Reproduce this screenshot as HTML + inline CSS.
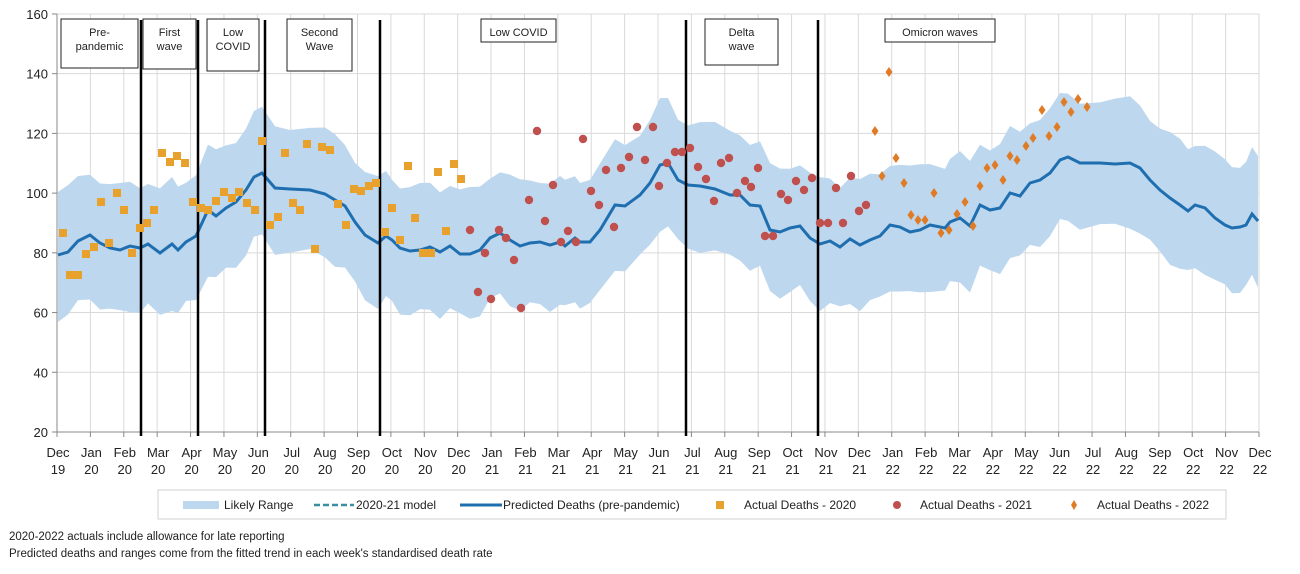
<!DOCTYPE html>
<html><head><meta charset="utf-8"><style>
html,body{margin:0;padding:0;background:#fff;width:1300px;height:574px;overflow:hidden}
svg text{font-family:"Liberation Sans",sans-serif;fill:#222}
</style></head><body>
<svg id="s" width="1300" height="574" xmlns="http://www.w3.org/2000/svg"></svg>
<script>
const s=document.getElementById('s');let h='';
const X0=57,X1=1259,Y=v=>432-(v-20)*2.986;
for(let v=20;v<=160;v+=20){h+=`<line x1="${X0}" x2="${X1}" y1="${Y(v)}" y2="${Y(v)}" stroke="#d9d9d9"/>`;
h+=`<line x1="${X0-5}" x2="${X0}" y1="${Y(v)}" y2="${Y(v)}" stroke="#888"/>`;
h+=`<text x="${X0-9}" y="${Y(v)+5}" font-size="13" text-anchor="end">${v}</text>`;}
const mons=['Dec','Jan','Feb','Mar','Apr','May','Jun','Jul','Aug','Sep','Oct','Nov'];
for(let i=0;i<=36;i++){const x=X0+i*(X1-X0)/36;
h+=`<line x1="${x}" x2="${x}" y1="${Y(160)}" y2="432" stroke="#d9d9d9"/><line x1="${x}" x2="${x}" y1="432" y2="437" stroke="#888"/>`;
const yr=19+Math.ceil(i/12);
h+=`<text x="${x+1}" y="457" font-size="13" text-anchor="middle">${mons[i%12]}</text><text x="${x+1}" y="474" font-size="13" text-anchor="middle">${yr}</text>`;}
const P=[[58,255],[68,252],[78,241],[90,235],[100,243],[110,248],[120,250],[130,246],[140,248],[148,244],[160,253],[172,244],[178,250],[186,242],[196,236],[208,210],[216,216],[226,208],[236,202],[246,190],[254,177],[262,173],[275,188],[290,189],[310,190],[325,194],[335,200],[345,206],[355,222],[365,235],[378,243],[386,236],[392,240],[400,248],[410,251],[420,250],[430,247],[440,252],[450,246],[460,254],[470,254],[480,250],[490,238],[500,233],[510,240],[520,246],[530,243],[540,242],[550,245],[560,242],[565,246],[575,238],[580,242],[590,242],[600,230],[615,205],[625,206],[640,195],[650,183],[660,165],[668,163],[678,180],[688,185],[700,186],[715,189],[730,195],[740,195],[750,205],[760,206],[770,230],[780,232],[790,228],[800,226],[810,238],[820,244],[830,241],[840,247],[850,239],[860,245],[870,240],[880,236],[890,225],[900,227],[910,232],[920,230],[930,225],[945,228],[950,222],[960,218],[970,226],[980,205],[990,210],[1000,208],[1010,193],[1020,196],[1030,183],[1040,180],[1050,173],[1060,160],[1068,157],[1080,163],[1100,163],[1115,164],[1130,163],[1140,168],[1150,180],[1160,190],[1170,198],[1180,205],[1188,211],[1195,205],[1205,208],[1215,218],[1225,225],[1232,228],[1240,227],[1246,225],[1252,214],[1258,221]];
const up=P.map(([x,y],i)=>[x,y-63-4*Math.sin(i*1.3)]),lo=P.map(([x,y],i)=>[x,y+63+4*Math.cos(i*1.7)]);
h+=`<polygon fill="#bdd7ee" points="${up.map(p=>p.join(',')).join(' ')} ${lo.reverse().map(p=>p.join(',')).join(' ')}"/>`;
h+=`<line x1="${X0}" x2="${X0}" y1="${Y(160)}" y2="432" stroke="#888"/><line x1="${X0}" x2="${X1}" y1="432" y2="432" stroke="#888"/>`;
h+=`<polyline fill="none" stroke="#1f6fb0" stroke-width="3" points="${P.map(p=>p.join(',')).join(' ')}"/>`;
[141,198,265,380,686,818].forEach(x=>h+=`<line x1="${x}" x2="${x}" y1="20" y2="436" stroke="#000" stroke-width="2.5"/>`);
const B=[[61,19,77,49,['Pre-','pandemic']],[143,19,53,50,['First','wave']],[207,19,52,52,['Low','COVID']],[287,19,65,52,['Second','Wave']],[481,19,75,23,['Low COVID']],[705,19,73,46,['Delta','wave']],[885,19,110,23,['Omicron waves']]];
B.forEach(([x,y,w,ht,t])=>{h+=`<rect x="${x}" y="${y}" width="${w}" height="${ht}" fill="#fff" stroke="#222"/>`;
t.forEach((l,i)=>h+=`<text x="${x+w/2}" y="${y+17+i*14}" font-size="11" text-anchor="middle">${l}</text>`);});
const S20=[[63,233],[70,275],[78,275],[86,254],[94,247],[101,202],[109,243],[117,193],[124,210],[132,253],[140,228],[147,223],[154,210],[162,153],[170,162],[177,156],[185,163],[193,202],[201,208],[208,210],[216,201],[224,192],[232,198],[239,192],[247,203],[255,210],[262,141],[270,225],[278,217],[285,153],[293,203],[300,210],[307,144],[315,249],[322,147],[330,150],[338,204],[346,225],[354,189],[361,191],[369,186],[376,183],[385,232],[392,208],[400,240],[408,166],[415,218],[423,253],[431,253],[438,172],[446,231],[454,164],[461,179]];
S20.forEach(([x,y])=>h+=`<rect x="${x-4}" y="${y-4}" width="8" height="8" fill="#e9a12e"/>`);
const S21=[[470,230],[478,292],[485,253],[491,299],[499,230],[506,238],[514,260],[521,308],[529,200],[537,131],[545,221],[553,185],[561,242],[568,231],[576,242],[583,139],[591,191],[599,205],[606,170],[614,227],[621,168],[629,157],[637,127],[645,160],[653,127],[659,186],[667,163],[675,152],[682,152],[690,148],[698,167],[706,179],[714,201],[721,163],[729,158],[737,193],[745,181],[751,187],[758,168],[765,236],[773,236],[781,194],[788,200],[796,181],[804,190],[812,178],[820,223],[828,223],[836,188],[843,223],[851,176],[859,211],[866,205]];
S21.forEach(([x,y])=>h+=`<circle cx="${x}" cy="${y}" r="4.2" fill="#c0504d"/>`);
const S22=[[875,131],[882,176],[889,72],[896,158],[904,183],[911,215],[918,220],[925,220],[934,193],[941,233],[949,230],[957,214],[965,202],[973,226],[980,186],[987,168],[995,165],[1003,180],[1010,156],[1017,160],[1026,146],[1033,138],[1042,110],[1049,136],[1057,127],[1064,102],[1071,112],[1078,99],[1087,107]];
S22.forEach(([x,y])=>h+=`<polygon points="${x},${y-5} ${x+3.5},${y} ${x},${y+5} ${x-3.5},${y}" fill="#e07b25"/>`);
const LY=505;
h+=`<rect x="158" y="490" width="1068" height="29" fill="#fff" stroke="#d0d0d0"/>`;
h+=`<rect x="183" y="${LY-4}" width="36" height="8" fill="#bdd7ee"/><text x="224" y="${LY+4}" font-size="12">Likely Range</text>`;
h+=`<line x1="314" x2="354" y1="${LY}" y2="${LY}" stroke="#3a8fa0" stroke-width="2.5" stroke-dasharray="6,3"/><text x="356" y="${LY+4}" font-size="12">2020-21 model</text>`;
h+=`<line x1="460" x2="502" y1="${LY}" y2="${LY}" stroke="#1f6fb0" stroke-width="3"/><text x="503" y="${LY+4}" font-size="12">Predicted Deaths (pre-pandemic)</text>`;
h+=`<rect x="716" y="${LY-4}" width="8" height="8" fill="#e9a12e"/><text x="744" y="${LY+4}" font-size="12">Actual Deaths - 2020</text>`;
h+=`<circle cx="897" cy="${LY}" r="4" fill="#c0504d"/><text x="920" y="${LY+4}" font-size="12">Actual Deaths - 2021</text>`;
h+=`<polygon points="1074,${LY-5} 1077,${LY} 1074,${LY+5} 1071,${LY}" fill="#e07b25"/><text x="1097" y="${LY+4}" font-size="12">Actual Deaths - 2022</text>`;
h+=`<text x="9" y="540" font-size="11.5">2020-2022 actuals include allowance for late reporting</text>`;
h+=`<text x="9" y="557" font-size="11.5">Predicted deaths and ranges come from the fitted trend in each week's standardised death rate</text>`;
s.innerHTML=h;
</script>
</body></html>
